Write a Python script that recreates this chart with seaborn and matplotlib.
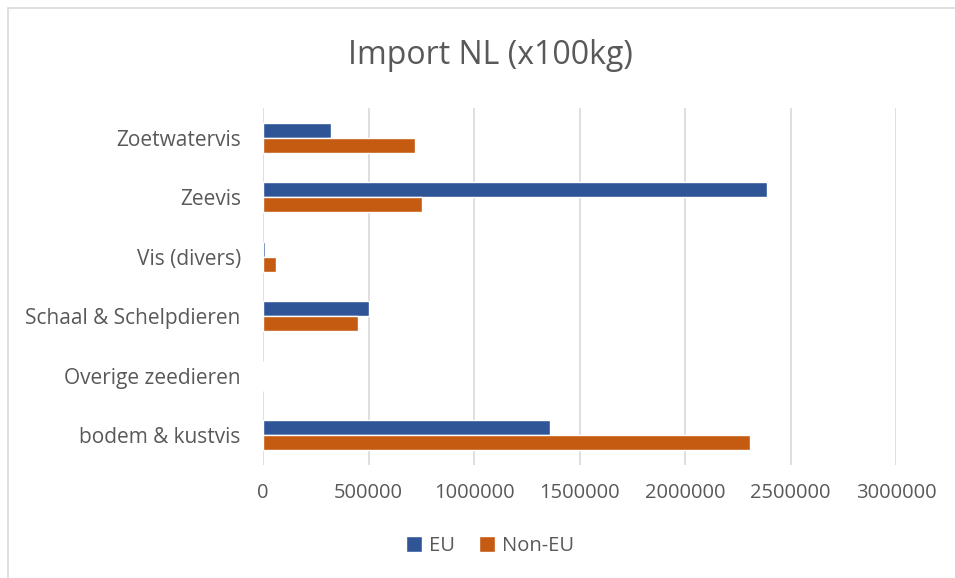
import pandas as pd
import numpy as np
import matplotlib.pyplot as plt
import seaborn as sns
from matplotlib.patches import Rectangle

# Data (x100kg)
categories = ['Zoetwatervis', 'Zeevis', 'Vis (divers)', 'Schaal & Schelpdieren',
              'Overige zeedieren', 'bodem & kustvis']
eu_values = [322000, 2390000, 8000, 503000, 0, 1358000]
non_eu_values = [719000, 752000, 63000, 451000, 0, 2310000]
series = ['EU', 'Non-EU']
x_ticks = [0, 500000, 1000000, 1500000, 2000000, 2500000, 3000000]

df = pd.DataFrame({
    'category': categories * 2,
    'value': eu_values + non_eu_values,
    'series': [series[0]] * len(categories) + [series[1]] * len(categories),
})

sns.set_style('white')
plt.rcParams['font.family'] = ['Open Sans', 'DejaVu Sans']
text_color = '#595959'

fig = plt.figure(figsize=(9.55, 5.78), dpi=100)
ax = fig.add_axes([263 / 955, 1 - 465 / 578, (896 - 263) / 955, (465 - 108) / 578])

sns.barplot(data=df, x='value', y='category', hue='series', order=categories,
            hue_order=series, palette=['#2F5597', '#C55A11'], orient='h',
            width=0.5, gap=0, saturation=1, ax=ax, legend=True)

ax.set_xlim(0, 3000000)
ax.set_xticks(x_ticks)
ax.set_xticklabels([str(t) for t in x_ticks])
ax.xaxis.grid(True, color='#D9D9D9', linewidth=1.2)
ax.set_axisbelow(True)
for s in ax.spines.values():
    s.set_visible(False)
ax.set_xlabel('')
ax.set_ylabel('')
ax.tick_params(axis='both', length=0, labelcolor=text_color)
ax.tick_params(axis='x', pad=13, labelsize=14.5)
ax.tick_params(axis='y', pad=16, labelsize=15)

# legend at bottom centre
ax.get_legend().remove()
handles, labels = ax.get_legend_handles_labels()
fig.legend(handles, labels, loc='center', bbox_to_anchor=(490 / 955, 1 - 546 / 578),
           ncol=2, frameon=False, fontsize=14.5, labelcolor=text_color,
           handlelength=0.8, handleheight=0.8, handletextpad=0.35, columnspacing=1.2)

fig.text(490 / 955, 1 - 56 / 578, 'Import NL (x100kg)', ha='center', va='center',
         fontsize=23, color=text_color)

# chart frame
fig.patches.append(Rectangle((8 / 955, -0.05), 1.1, 1 - 8 / 578 + 0.05,
                             transform=fig.transFigure, fill=False,
                             edgecolor='#D9D9D9', linewidth=1.2))

fig.savefig('out.png', dpi=100)
